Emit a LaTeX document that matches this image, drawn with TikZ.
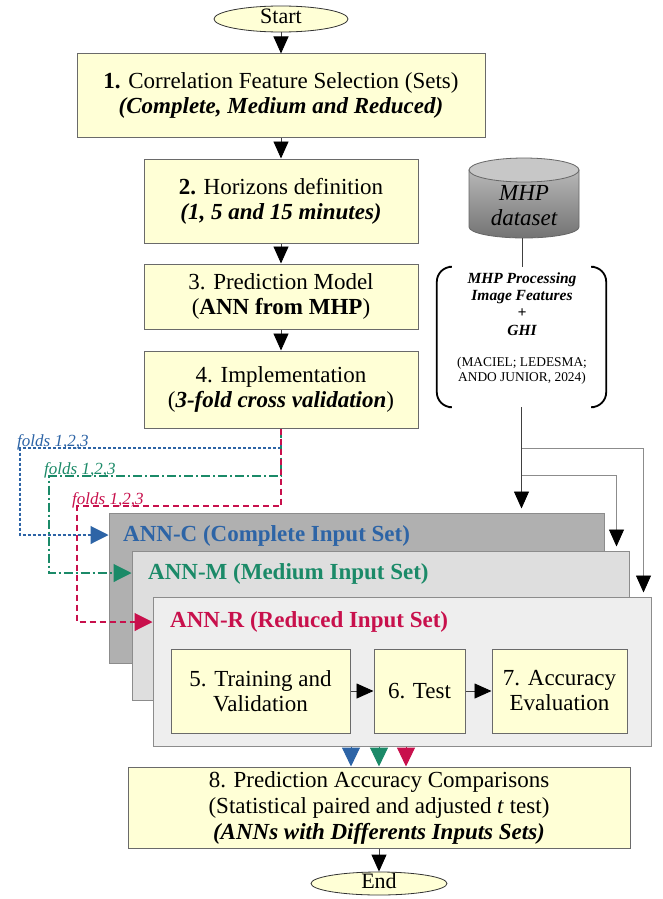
\documentclass[tikz,border=0pt]{standalone}
\usepackage{fontspec}
\setmainfont{Liberation Serif}
\usetikzlibrary{arrows.meta,calc,shapes.geometric}
\definecolor{boxfill}{HTML}{FFFFD6}
\definecolor{boxline}{HTML}{6A6A6A}
\definecolor{cblue}{HTML}{2D64A6}
\definecolor{cgreen}{HTML}{1B8A68}
\definecolor{cred}{HTML}{C8104C}
\definecolor{annc}{HTML}{B0B0B0}
\definecolor{annm}{HTML}{DEDEDE}
\definecolor{annr}{HTML}{EEEEEE}
\begin{document}
\begin{tikzpicture}[x=1pt,y=-1pt,
  box/.style={draw=boxline, fill=boxfill, line width=1pt, align=center, inner sep=0pt,
    font=\fontsize{23}{25}\selectfont},
  term/.style={ellipse, draw=black!80, fill=boxfill, line width=0.8pt, inner sep=0pt,
    text height=13pt, text depth=3pt, font=\fontsize{22}{24}\selectfont},
  flow/.style={draw=black!75, line width=0.9pt, -{Triangle[width=15pt,length=17pt,color=black]}},
  grayflow/.style={draw=black!45, line width=0.9pt, -{Triangle[width=15pt,length=17pt,color=black]}, shorten >=4pt},
  annbox/.style={draw=black!45, line width=1pt, inner sep=0pt, minimum height=149pt},
  anntitle/.style={anchor=west, inner sep=0pt, font=\fontsize{23}{25}\selectfont\bfseries},
  foldlabel/.style={anchor=base west, inner sep=0pt, font=\fontsize{17}{17}\selectfont\itshape},
  foldline/.style={line width=1.1pt, -{Triangle[width=18pt,length=18pt]}},
  outarrow/.style={line width=1pt, -{Triangle[width=18pt,length=19pt]}}
]
\fill[white] (0,0) rectangle (662,899);
\useasboundingbox (0,0) rectangle (662,899);

% main column
\node[term, minimum width=134pt, minimum height=26pt] (start) at (281,19) {Start};
\node[box, minimum width=408pt, minimum height=83pt] (b1) at (281,95.5)
  {\textbf{1.} Correlation Feature Selection (Sets)\\\textbf{\textit{(Complete, Medium and Reduced)}}};
\node[box, minimum width=274pt, minimum height=84pt] (b2) at (281,201)
  {\textbf{2.} Horizons definition\\\textbf{\textit{(1, 5 and 15 minutes)}}};
\node[box, minimum width=274pt, minimum height=65pt] (b3) at (281,296.5)
  {3. Prediction Model\\(\textbf{ANN from MHP})};
\node[box, minimum width=274pt, minimum height=77pt] (b4) at (281,389.5)
  {4. Implementation\\(\textbf{\textit{3-fold cross validation}})};

\draw[flow] (start) -- (b1);
\draw[flow] (b1) -- (b2);
\draw[flow] (b2) -- (b3);
\draw[flow] (b3) -- (b4);

% MHP dataset cylinder
\shade[top color=black!28, bottom color=black!55, draw=black!60, line width=0.8pt]
  (469,170) -- (469,227) arc[start angle=180, end angle=0, x radius=55, y radius=11]
  -- (579,170) -- cycle;
\filldraw[fill=black!22, draw=black!60, line width=0.8pt] (524,170) ellipse[x radius=55, y radius=12];
\node[font=\fontsize{23}{25}\selectfont\itshape, align=center, inner sep=0pt] (mhp) at (524,206) {MHP\\dataset};
\coordinate (cylbot) at (522,238);

% processing bracket group
\node[minimum width=169pt, minimum height=140pt, inner sep=0pt] (src) at (521.5,337) {};
\draw[line width=1.8pt, rounded corners=15pt]
  ([xshift=12pt]src.north west) -- (src.north west) -- (src.south west) -- ([xshift=12pt]src.south west);
\draw[line width=1.8pt, rounded corners=15pt]
  ([xshift=-12pt]src.north east) -- (src.north east) -- (src.south east) -- ([xshift=-12pt]src.south east);
\node[font=\fontsize{15.5}{17.3}\selectfont\bfseries\itshape, align=center, inner sep=0pt] (proc) at (522,304)
  {MHP Processing\\Image Features\\+\\GHI};
\node[font=\fontsize{13.4}{15}\selectfont, align=center, inner sep=0pt] (cite) at (522,370.5)
  {(MACIEL; LEDESMA;\\ANDO JUNIOR, 2024)};
\draw[black!75, line width=0.9pt] (cylbot) -- (cylbot |- src.north);

% ANN boxes
\node[annbox, fill=annc, minimum width=495pt, minimum height=150pt] (annc) at (356.5,588) {};
\node[annbox, fill=annm, minimum width=497pt] (annm) at (380.5,625.5) {};
\node[annbox, fill=annr, minimum width=498pt] (annr) at (402,671.5) {};
\node[anntitle, text=cblue] (tc) at (123,536) {ANN-C (Complete Input Set)};
\node[anntitle, text=cgreen] (tm) at (148,574) {ANN-M (Medium Input Set)};
\node[anntitle, text=cred] (tr) at (170,622) {ANN-R (Reduced Input Set)};

\node[box, minimum width=179pt, minimum height=84pt] (b5) at (260.5,691) {5. Training and\\Validation};
\node[box, minimum width=91pt, minimum height=84pt] (b6) at (419.5,691) {6. Test};
\node[box, minimum width=135pt, minimum height=84pt] (b7) at (559.5,691) {7. Accuracy\\Evaluation};
\draw[flow] (b5) -- (b6);
\draw[flow] (b6) -- (b7);

% inputs from MHP source
\coordinate (j1) at (src.south |- 0,448);
\coordinate (j2) at (src.south |- 0,475);
\draw[grayflow] (j1) -| ([xshift=-8pt]annr.north east);
\draw[grayflow] (j2) -| ([xshift=-13pt]annm.north east);
\draw[flow, shorten >=4pt] (src.south) -- (src.south |- annc.north);

% folds
\draw[foldline, cblue, dash pattern=on 3pt off 2pt] (b4.south) |- (20,448) |- (annc.west |- 0,535);
\draw[foldline, cgreen, dash pattern=on 9pt off 3pt on 2pt off 3pt] (b4.south) |- (49,476) |- (annm.west |- 0,573);
\draw[foldline, cred, dash pattern=on 6pt off 4pt] (b4.south) |- (77,506) |- (annr.west |- 0,622);
\node[foldlabel, text=cblue] (fl1) at (17,446) {folds 1,2,3};
\node[foldlabel, text=cgreen] (fl2) at (44,474) {folds 1,2,3};
\node[foldlabel, text=cred] (fl3) at (72,504) {folds 1,2,3};

% comparison and end
\node[box, minimum width=502pt, minimum height=81pt, font=\fontsize{23}{26}\selectfont] (b8) at (379,807.5)
  {8. Prediction Accuracy Comparisons\\(Statistical paired and adjusted \textit{t} test)\\\textbf{\textit{(ANNs with Differents Inputs Sets)}}};
\draw[outarrow, cblue] (annr.south -| 351,0) -- (b8.north -| 351,0);
\draw[outarrow, cgreen] (annr.south -| 379,0) -- (b8.north -| 379,0);
\draw[outarrow, cred] (annr.south -| 406,0) -- (b8.north -| 406,0);

\node[term, minimum width=136pt, minimum height=23pt] (end) at (379,883.5) {End};
\draw[flow] (b8) -- (end);
\end{tikzpicture}
\end{document}
